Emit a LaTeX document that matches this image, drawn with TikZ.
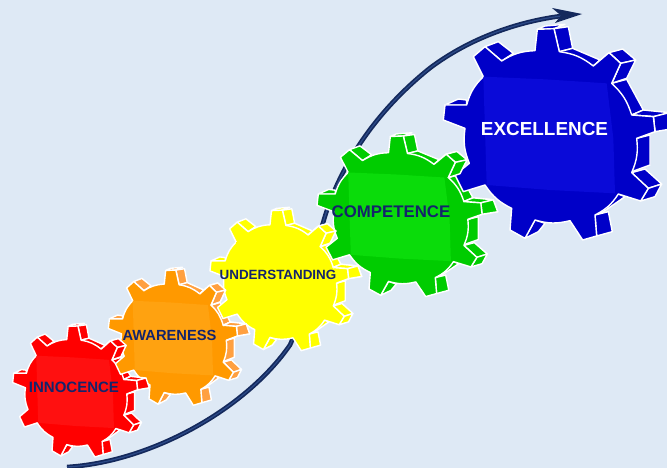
\documentclass[tikz,border=0pt]{standalone}
\usepackage{fontspec}
\setmainfont{Liberation Sans}
\definecolor{bgc}{HTML}{DEE9F5}
\definecolor{navy}{HTML}{14295C}
\definecolor{navyl}{HTML}{2C4A88}
\definecolor{txtc}{HTML}{14246B}
\definecolor{redf}{HTML}{FF0000}
\definecolor{redi}{HTML}{FF1010}
\definecolor{orf}{HTML}{FF9900}
\definecolor{ors}{HTML}{FFA040}
\definecolor{ori}{HTML}{FFA210}
\definecolor{yelf}{HTML}{FFFF00}
\definecolor{grf}{HTML}{00CC00}
\definecolor{gri}{HTML}{0ADC0A}
\definecolor{blf}{HTML}{0000C8}
\definecolor{bli}{HTML}{0A0AD8}
\tikzset{
 gearline/.style={draw=white,line width=1.4pt,line join=round},
 rimcurve/.style={bend left=15},
 gearlabel/.style={inner sep=0pt,text=txtc},
}
\newcommand{\gearscope}[4]{\tikzset{gearcs/.style={shift={(#1pt,-#2pt)},x=#3*0.33333pt,y=-#4*0.33333pt}}}
\newcommand{\sidefaces}[1]{%
 \path[gearline,fill=#1] (322,88)--(345,78)--(405,73)--(372,86)--cycle;
 \path[gearline,fill=#1] (372,86)--(415,80)--(428,145)--(388,155)--cycle;
 \path[gearline,fill=#1] (165,140)--(205,125)--(250,160)--(215,183)--cycle;
 \path[gearline,fill=#1] (388,155)--(428,145)--(510,180)--(490,198)--cycle;
 \path[gearline,fill=#1] (545,250)--(590,238)--(640,330)--(605,345)--cycle;
 \path[gearline,fill=#1] (620,415)--(660,405)--(660,495)--(605,515)--cycle;
 \path[gearline,fill=#1] (605,518)--(645,507)--(695,552)--(655,565)--cycle;
 \path[gearline,fill=#1] (655,565)--(695,552)--(675,590)--(632,603)--cycle;
 \path[gearline,fill=#1] (565,582)--(585,590)--(520,635)--(495,645)--cycle;
 \path[gearline,fill=#1] (495,645)--(535,635)--(547,695)--(500,708)--cycle;
 \path[gearline,fill=#1] (315,660)--(345,670)--(325,695)--(285,715)--cycle;
 \path[gearline,fill=#1] (45,315)--(85,297)--(110,300)--(110,315)--cycle;
}
\newcommand{\meshteeth}[2]{%
 \path[gearline,fill=#2] (537,158)--(578,147)--(617,180)--(572,190)--cycle;
 \path[gearline,fill=#2] (572,190)--(617,180)--(590,235)--(545,250)--cycle;
 \path[gearline,fill=#2] (605,345)--(640,330)--(718,338)--(670,350)--cycle;
 \path[gearline,fill=#2] (670,350)--(718,338)--(735,385)--(675,395)--cycle;
 \fill[#1] (490,198)--(537,158)--(572,190)--(545,250)--cycle;
 \draw[gearline] (490,198)--(537,158)--(572,190)--(545,250);
 \fill[#1] (605,345)--(670,350)--(675,395)--(620,415)--cycle;
 \draw[gearline] (605,345)--(670,350)--(675,395)--(620,415);
}
\newcommand{\gearfull}[3]{%
 \begin{scope}[gearcs]
 \sidefaces{#2}
 \meshteeth{#1}{#2}
 \path[gearline,fill=#1] (322,88)--(372,86)--(388,155) to[rimcurve] (490,198)--(537,158)--(572,190)--(545,250) to[rimcurve] (605,345)--(670,350)--(675,395)--(620,415) to[rimcurve] (605,518)--(655,565)--(632,603)--(565,582) to[rimcurve] (495,645)--(500,708)--(458,720)--(420,662) to[rimcurve] (315,660)--(285,715)--(240,690)--(245,625) to[rimcurve] (165,555)--(100,575)--(75,525)--(118,490) to[rimcurve] (105,385)--(40,360)--(45,315)--(110,315) to[rimcurve] (160,230)--(130,170)--(165,140)--(215,183) to[rimcurve] (315,152)--cycle;
 \fill[#3] (160,230)--(345,238)--(530,250)--(550,415)--(555,580)--(360,570)--(170,555)--(165,390)--cycle;
 \end{scope}}
\newcommand{\gearmesh}[2]{\begin{scope}[gearcs]\meshteeth{#1}{#2}\end{scope}}
\newcommand{\redgear}{\gearscope{4.8}{308.2}{0.59}{0.62}}
\newcommand{\orgear}{\gearscope{100.2}{251.7}{0.61}{0.64}}
\newcommand{\yelgear}{\gearscope{201.2}{191.1}{0.655}{0.665}}
\newcommand{\grgear}{\gearscope{306.6}{114.2}{0.78}{0.76}}
\newcommand{\blgear}{\gearscope{430}{0}{1}{1}}
\begin{document}
\begin{tikzpicture}[x=1pt,y=-1pt]
\useasboundingbox (0,0) rectangle (667,468);
\fill[bgc] (0,0) rectangle (667,468);
\begin{scope}
\clip (0,0) rectangle (667,468);
\draw[navy,line width=4.6pt] (67,467) .. controls (150,462) and (245,410) .. (290,345) .. controls (310,300) and (312,255) .. (323,223) .. controls (335,180) and (365,120) .. (430,68) .. controls (470,38) and (520,20) .. (570,15);
\draw[navyl,line width=1.2pt] (67,467) .. controls (150,462) and (245,410) .. (290,345) .. controls (310,300) and (312,255) .. (323,223) .. controls (335,180) and (365,120) .. (430,68) .. controls (470,38) and (520,20) .. (570,15);
\fill[navy] (582,14)--(552,8)--(561,15.5)--(555,23)--cycle;
\redgear \gearfull{redf}{redf}{redi}
\orgear \gearfull{orf}{ors}{ori}
\redgear \gearmesh{redf}{redf}
\yelgear \gearfull{yelf}{yelf}{yelf}
\orgear \gearmesh{orf}{ors}
\grgear \gearfull{grf}{grf}{gri}
\yelgear \gearmesh{yelf}{yelf}
\blgear \gearfull{blf}{blf}{bli}
\grgear \gearmesh{grf}{grf}
\end{scope}
\node[gearlabel,font=\bfseries\fontsize{15}{15}\selectfont] (innocence) at (74,387) {INNOCENCE};
\node[gearlabel,font=\bfseries\fontsize{14.7}{15}\selectfont] (awareness) at (169.5,335.5) {AWARENESS};
\node[gearlabel,font=\bfseries\fontsize{13.4}{14}\selectfont] (understanding) at (278,275) {UNDERSTANDING};
\node[gearlabel,font=\bfseries\fontsize{16.8}{17}\selectfont] (competence) at (391,212) {COMPETENCE};
\node[gearlabel,text=white,font=\bfseries\fontsize{18.9}{19}\selectfont] (excellence) at (544.5,129) {EXCELLENCE};
\end{tikzpicture}
\end{document}
